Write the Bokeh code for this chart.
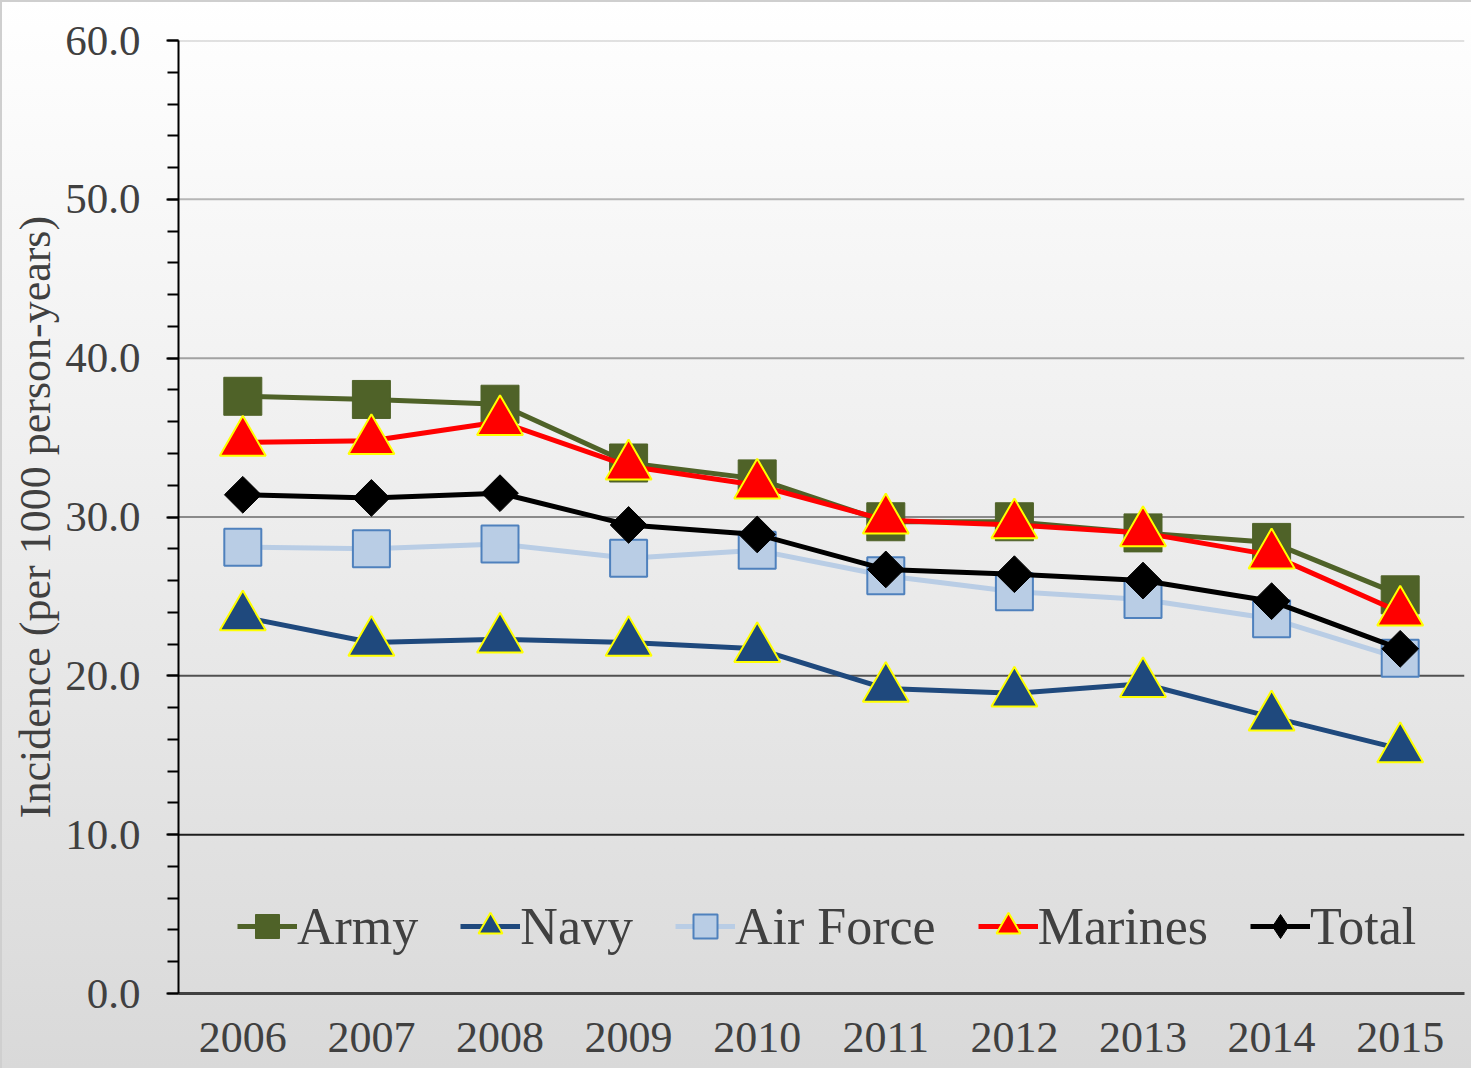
import math
from bokeh.plotting import figure
from bokeh.models import (Span, Legend, LegendItem, SingleIntervalTicker,
                          FactorRange, Range1d, NumeralTickFormatter)
from bokeh.embed import file_html
from bokeh.resources import INLINE

# ---- data ----
years = ["2006", "2007", "2008", "2009", "2010", "2011", "2012", "2013", "2014", "2015"]
army = [37.6, 37.4, 37.1, 33.4, 32.4, 29.7, 29.7, 29.0, 28.4, 25.1]
navy = [23.7, 22.1, 22.3, 22.1, 21.7, 19.2, 18.9, 19.5, 17.4, 15.4]
air_force = [28.1, 28.0, 28.3, 27.4, 27.9, 26.3, 25.3, 24.8, 23.6, 21.1]
marines = [34.7, 34.8, 36.0, 33.2, 32.0, 29.8, 29.5, 29.0, 27.6, 24.0]
total = [31.4, 31.2, 31.5, 29.5, 28.9, 26.7, 26.4, 26.0, 24.7, 21.7]
grid_values = [10, 20, 30, 40, 50, 60]

# ---- styles ----
grid_colors = ["#1e1e1e", "#505050", "#8a8a8a", "#a2a2a2", "#b6b6b6", "#c4c4c4"]
FONT = "Liberation Serif"
TXT = "#404040"

p = figure(x_range=FactorRange(factors=years), y_range=Range1d(0, 60),
           width=1471, height=1068, output_backend="svg", toolbar_location=None,
           min_border_left=178, min_border_right=7, min_border_top=40, min_border_bottom=75)
p.styles = {"background": "linear-gradient(to bottom, #ffffff 0%, #f2f2f2 35%, #d9d9d9 100%)",
            "box-shadow": "inset 2px 2px 0 0 #cfcfcf"}
p.background_fill_color = None
p.border_fill_color = None
p.outline_line_color = None
p.xgrid.visible = False
p.ygrid.visible = False

for v, c in zip(grid_values, grid_colors):
    p.add_layout(Span(location=v, dimension="width", line_color=c, line_width=2, level="underlay"))

# y axis
ya = p.yaxis[0]
ya.ticker = SingleIntervalTicker(interval=10, num_minor_ticks=5)
ya.formatter = NumeralTickFormatter(format="0.0")
ya.axis_line_color = "black"
ya.axis_line_width = 2
ya.major_tick_line_color = "black"
ya.major_tick_line_width = 2
ya.major_tick_out = 12
ya.major_tick_in = 0
ya.minor_tick_line_color = "black"
ya.minor_tick_line_width = 2
ya.minor_tick_out = 11
ya.minor_tick_in = 0
ya.major_label_text_font = FONT
ya.major_label_text_font_size = "43px"
ya.major_label_text_color = TXT
ya.major_label_standoff = 26
ya.axis_label = "Incidence (per 1000 person-years)"
ya.axis_label_text_font = FONT
ya.axis_label_text_font_size = "44px"
ya.axis_label_text_font_style = "normal"
ya.axis_label_text_color = TXT
ya.axis_label_standoff = 2

# x axis
xa = p.xaxis[0]
xa.axis_line_color = "#404040"
xa.axis_line_width = 3
xa.major_tick_line_color = None
xa.minor_tick_line_color = None
xa.major_tick_out = 0
xa.major_label_text_font = FONT
xa.major_label_text_font_size = "44px"
xa.major_label_text_color = TXT
xa.major_label_standoff = 29

# series
army_l = p.line(years, army, line_color="#4F6228", line_width=5)
army_m = p.scatter(years, army, marker="square", size=38, fill_color="#4F6228", line_color="#4F6228")
navy_l = p.line(years, navy, line_color="#1F497D", line_width=5)
navy_m = p.scatter(years, navy, marker="triangle", size=46, fill_color="#1F497D",
                   line_color="#FFFF00", line_width=2)
af_l = p.line(years, air_force, line_color="#B9CDE5", line_width=5)
af_m = p.scatter(years, air_force, marker="square", size=37, fill_color="#B9CDE5",
                 line_color="#4F81BD", line_width=2)
mar_l = p.line(years, marines, line_color="#FF0000", line_width=5)
mar_m = p.scatter(years, marines, marker="triangle", size=46, fill_color="#FF0000",
                  line_color="#FFFF00", line_width=2)
tot_l = p.line(years, total, line_color="black", line_width=5)
tot_m = p.scatter(years, total, marker="square", angle=math.pi / 4, size=26,
                  fill_color="black", line_color="black")
# legend-only proxy so that the legend shows a diamond (not drawn in the plot)
tot_proxy = p.scatter(years, total, marker="diamond", size=26, fill_color="black",
                      line_color="black", visible=False)

legend = Legend(items=[
    LegendItem(label="Army", renderers=[army_l, army_m]),
    LegendItem(label="Navy", renderers=[navy_l, navy_m]),
    LegendItem(label="Air Force", renderers=[af_l, af_m]),
    LegendItem(label="Marines", renderers=[mar_l, mar_m]),
    LegendItem(label="Total", renderers=[tot_l, tot_proxy]),
], orientation="horizontal", location=(59, 34), glyph_width=60, glyph_height=66,
    label_standoff=0, spacing=42, padding=0, margin=0,
    background_fill_alpha=0, border_line_color=None, inactive_fill_alpha=0,
    label_text_font=FONT, label_text_font_size="52px", label_text_color=TXT)
p.add_layout(legend)

open("out.html", "w").write(file_html(p, INLINE))
